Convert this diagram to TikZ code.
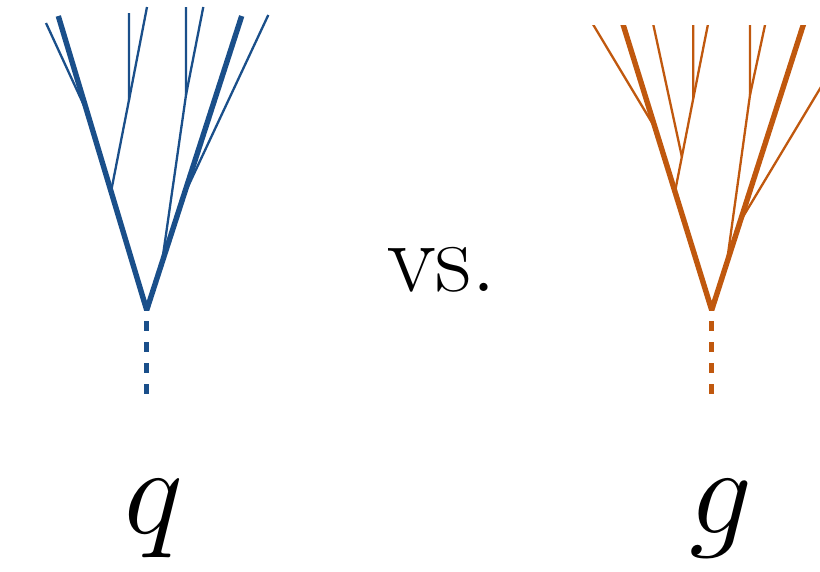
\RequirePackage{fix-cm}
\documentclass[tikz,border=0pt]{standalone}
\usetikzlibrary{calc}
\definecolor{qblue}{RGB}{26,79,138}
\definecolor{gorange}{RGB}{192,88,14}
\tikzset{
  thickbr/.style={line width=5.4pt, line join=bevel, line cap=butt},
  thinbr/.style={line width=2.3pt, line cap=butt},
  stem/.style={line width=5pt, dash pattern=on 10pt off 11pt},
}
\begin{document}
\begin{tikzpicture}[x=1pt,y=-1pt]
\useasboundingbox (0,0) rectangle (820,571);
% ---------- left tree (q) ----------
\begin{scope}[draw=qblue]
\coordinate (R1) at (146.7,310);
\coordinate (LT1) at (58.3,16);
\coordinate (RT1) at (241.7,16);
\coordinate (a1) at ($(R1)!0.67!(LT1)$);
\coordinate (a1top) at (46,23);
\coordinate (b1) at ($(R1)!0.403!(LT1)$);
\coordinate (B1) at (129,100);
\coordinate (B1v) at (129,13);
\coordinate (B1r) at (147,7);
\coordinate (c1) at ($(R1)!0.16!(RT1)$);
\coordinate (C1) at (186,95);
\coordinate (C1v) at (186,7);
\coordinate (C1r) at (203.3,7);
\coordinate (d1) at ($(R1)!0.386!(RT1)$);
\coordinate (d1top) at (268.3,15);
\coordinate (S1a) at (146.7,321);
\coordinate (S1b) at (146.7,394);
\draw[thinbr] (a1) -- (a1top);
\draw[thinbr] (b1) -- (B1) -- (B1v);
\draw[thinbr] (B1) -- (B1r);
\draw[thinbr] (c1) -- (C1) -- (C1v);
\draw[thinbr] (C1) -- (C1r);
\draw[thinbr] (d1) -- (d1top);
\draw[thickbr] (LT1) -- (R1) -- (RT1);
\draw[stem] (S1a) -- (S1b);
\end{scope}
% ---------- right tree (g) ----------
\begin{scope}[draw=gorange]
\clip (560,25) rectangle (820,571);
\coordinate (R2) at (711.7,310);
\coordinate (LT2) at (619.5,13);
\coordinate (RT2) at (807.1,13);
\coordinate (LT2r) at (623.3,25);
\coordinate (d2) at ($(R2)!0.6375!(LT2r)$);
\coordinate (d2top) at (586.2,13);
\coordinate (e2) at ($(R2)!0.415!(LT2r)$);
\coordinate (B2) at (693.3,98.3);
\coordinate (C2) at ($(e2)!0.375!(B2)$);
\coordinate (C2top) at (650.8,13);
\coordinate (B2v) at (693.3,13);
\coordinate (B2r) at (710.2,13);
\coordinate (RT2r) at (803.3,25);
\coordinate (f2) at ($(R2)!0.164!(RT2r)$);
\coordinate (D2) at (750,95);
\coordinate (D2v) at (750,13);
\coordinate (D2r) at (767.6,13);
\coordinate (g2) at ($(R2)!0.31!(RT2r)$);
\coordinate (g2top) at (830,72);
\coordinate (S2a) at (711.7,321);
\coordinate (S2b) at (711.7,394);
\draw[thinbr] (d2) -- (d2top);
\draw[thinbr] (e2) -- (B2) -- (B2v);
\draw[thinbr] (B2) -- (B2r);
\draw[thinbr] (C2) -- (C2top);
\draw[thinbr] (f2) -- (D2) -- (D2v);
\draw[thinbr] (D2) -- (D2r);
\draw[thinbr] (g2) -- (g2top);
\draw[thickbr] (LT2) -- (R2) -- (RT2);
\draw[stem] (S2a) -- (S2b);
\end{scope}
% ---------- labels ----------
\node[anchor=base, inner sep=0pt] (vs) at (442,291.7) {\fontsize{100}{100}\selectfont vs.};
\node[anchor=base, inner sep=0pt] (q) at (154,533) {\fontsize{125}{125}\selectfont $q$};
\node[anchor=base, inner sep=0pt] (g) at (721,533) {\fontsize{125}{125}\selectfont $g$};
\end{tikzpicture}
\end{document}
